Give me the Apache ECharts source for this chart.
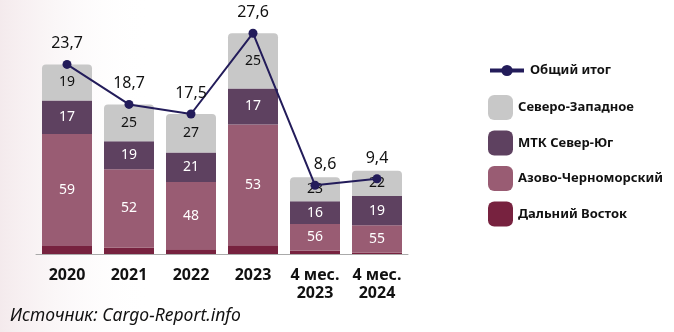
<!DOCTYPE html>
<html><head><meta charset="utf-8">
<script src="https://cdn.jsdelivr.net/npm/echarts@6/dist/echarts.min.js"></script>
<style>html,body{margin:0;padding:0;background:#fff}#c{width:674px;height:332px}</style>
</head><body><div id="c"></div>
<script>
const categories = ['2020','2021','2022','2023','4 мес.\n2023','4 мес.\n2024'];
const totals = [23.7, 18.7, 17.5, 27.6, 8.6, 9.4];
// shares, % (label text)
const shareNW = [19, 25, 27, 25, 23, 22];
const shareMTK = [17, 19, 21, 17, 16, 19];
const shareAzov = [59, 52, 48, 53, 56, 55];
// drawn segment heights (same units as totals)
const segDV = [1.0, 0.8, 0.6, 1.1, 0.4, 0.2];
const segAzov = [14.0, 9.8, 8.4, 15.1, 3.35, 3.4];
const segMTK = [4.2, 3.5, 3.7, 4.5, 2.85, 3.65];
const segNW = [4.5, 4.6, 4.8, 6.9, 3.0, 3.15];

const FONT = 'Noto Sans';
const chart = echarts.init(document.getElementById('c'));
function segLabel(arr, color){
  return {show:true, position:'inside', fontFamily:FONT, fontSize:14, color:color,
    formatter: p => String(arr[p.dataIndex])};
}
chart.setOption({
  animation:false,
  backgroundColor:'#fff',
  graphic:[{type:'rect', left:0, top:0, z:-10, shape:{width:150, height:332},
    style:{fill:new echarts.graphic.LinearGradient(0,0,1,0,[
      {offset:0, color:'rgba(215,180,188,0.28)'},{offset:1, color:'rgba(255,255,255,0)'}])}}],
  title:{text:'Источник: Cargo-Report.info', left:5, top:302,
    textStyle:{fontFamily:FONT, fontStyle:'italic', fontWeight:'normal', fontSize:17.5, color:'#111'}},
  legend:[
    {data:['Общий итог'], left:483, top:59, itemWidth:34, itemHeight:14,
     lineStyle:{width:4}, textStyle:{fontFamily:FONT, fontWeight:'bold', fontSize:13, color:'#111', padding:[0,0,0,1]}},
    {data:['Северо-Западное','МТК Север-Юг','Азово-Черноморский','Дальний Восток'],
     orient:'vertical', left:483, top:90, itemWidth:25, itemHeight:25, itemGap:10.5, icon:'roundRect',
     textStyle:{fontFamily:FONT, fontWeight:'bold', fontSize:13, color:'#111'}}
  ],
  grid:{left:36, width:372, top:14, bottom:78},
  xAxis:{type:'category', data:categories,
    axisLine:{lineStyle:{color:'#aaa'}}, axisTick:{show:false},
    axisLabel:{interval:0, fontFamily:FONT, fontWeight:'bold', fontSize:16, color:'#111', margin:12, lineHeight:18}},
  yAxis:{type:'value', min:0, max:30, show:false, splitLine:{show:false}},
  series:[
    {name:'Дальний Восток', type:'bar', stack:'s', data:segDV, barWidth:50, itemStyle:{color:'#77223f'}},
    {name:'Азово-Черноморский', type:'bar', stack:'s', data:segAzov, itemStyle:{color:'#995c73'}, label:segLabel(shareAzov,'#fff')},
    {name:'МТК Север-Юг', type:'bar', stack:'s', data:segMTK, itemStyle:{color:'#5e4160'}, label:segLabel(shareMTK,'#fff')},
    {name:'Северо-Западное', type:'bar', stack:'s', data:segNW, itemStyle:{color:'#c8c8c8', borderRadius:[4,4,0,0]}, label:segLabel(shareNW,'#111')},
    {name:'Общий итог', type:'line', data:totals.map((v,i)=> i===4 ? {value:v, label:{offset:[10,0]}} : v),
     symbol:'circle', symbolSize:9, z:10,
     lineStyle:{color:'#231c5a', width:2}, itemStyle:{color:'#231c5a'},
     label:{show:true, position:'top', distance:8, fontFamily:FONT, fontSize:16, color:'#111',
       formatter: p => String(totals[p.dataIndex]).replace('.', ',')}}
  ]
});
</script></body></html>
